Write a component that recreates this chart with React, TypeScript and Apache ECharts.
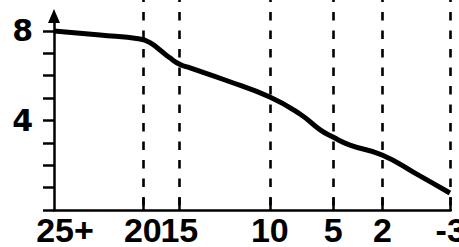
import React, { useEffect, useRef } from 'react';
import * as echarts from 'echarts';

const tickPositions = [0, 22.4, 31.6, 54.4, 70.4, 82.8, 100];
const tickLabels = ['25+', '20', '15', '10', '5', '2', '-3'];
const dashedAt = [22.4, 31.6, 54.4, 70.4, 82.8, 100];
const curveX = [0, 11.6, 21.7, 24.2, 26.7, 29.2, 31.8, 34.3, 43.1, 54.4, 62.0, 67.1, 70.3, 74.6, 82.7, 91.0, 99.8];
const curveY = [8.0, 7.82, 7.64, 7.48, 7.15, 6.8, 6.5, 6.35, 5.81, 5.05, 4.29, 3.58, 3.26, 2.9, 2.46, 1.65, 0.76];
const yTicks = [0, 1, 2, 3, 4, 5, 6, 7, 8];
const yLabels = [4, 8];

export default function App() {
  const ref = useRef<HTMLDivElement>(null);
  useEffect(() => {
    if (!ref.current) return;
    const chart = echarts.init(ref.current, undefined, { renderer: 'svg' });
    const font = 'Liberation Sans, Arial, Helvetica, sans-serif';
    chart.setOption({
      animation: false,
      grid: [
        { left: 54, right: 8.3, top: 16, bottom: 37, containLabel: false, outerBoundsMode: 'none' },
        { left: 54, right: 8.3, top: 0, bottom: 37, containLabel: false, outerBoundsMode: 'none' },
      ],
      xAxis: [
        {
          type: 'value',
          gridIndex: 0,
          min: 0,
          max: 100,
          splitLine: { show: false },
          axisLine: { show: true, lineStyle: { color: '#000', width: 2.5 } },
          axisTick: {
            show: true,
            inside: true,
            length: 12,
            lineStyle: { color: '#000', width: 2.5 },
            customValues: tickPositions.slice(1),
          },
          axisLabel: {
            show: true,
            customValues: tickPositions,
            margin: 6,
            color: '#000',
            fontFamily: font,
            fontWeight: 'bold',
            fontSize: 34,
            lineHeight: 28,
            formatter: (v: number) => {
              const i = tickPositions.findIndex((p) => Math.abs(p - v) < 1e-6);
              if (i < 0) return '';
              return i === 0 ? '{a|' + tickLabels[i] + '}' : tickLabels[i];
            },
            rich: {
              a: {
                padding: [0, 0, 0, 22],
                color: '#000',
                fontFamily: font,
                fontWeight: 'bold',
                fontSize: 34,
                lineHeight: 28,
              },
            },
          },
        },
        { type: 'value', gridIndex: 1, min: 0, max: 100, show: false },
      ],
      yAxis: [
        {
          type: 'value',
          gridIndex: 0,
          min: 0,
          max: 8.67,
          splitLine: { show: false },
          axisLine: {
            show: true,
            symbol: ['none', 'triangle'],
            symbolSize: [12, 14],
            lineStyle: { color: '#000', width: 2.5 },
          },
          axisTick: {
            show: true,
            inside: false,
            length: 11,
            lineStyle: { color: '#000', width: 2.5 },
            customValues: yTicks,
          },
          axisLabel: {
            show: true,
            customValues: yLabels,
            margin: 21,
            color: '#000',
            fontFamily: 'DejaVu Sans, sans-serif',
            fontWeight: 'bold',
            fontSize: 30,
          },
        },
        { type: 'value', gridIndex: 1, min: 0, max: 1, show: false },
      ],
      series: [
        {
          type: 'line',
          xAxisIndex: 1,
          yAxisIndex: 1,
          z: 1,
          data: [[0, 0]],
          showSymbol: false,
          symbol: 'none',
          lineStyle: { opacity: 0 },
          silent: true,
          markLine: {
            silent: true,
            symbol: ['none', 'none'],
            label: { show: false },
            lineStyle: { type: [8.5, 10], dashOffset: 13.5, color: '#000', width: 2.6 },
            data: dashedAt.map((v) => ({ xAxis: v })),
          },
        },
        {
          type: 'line',
          xAxisIndex: 0,
          yAxisIndex: 0,
          z: 5,
          data: curveX.map((x, i) => [x, curveY[i]]),
          showSymbol: false,
          symbol: 'none',
          smooth: 0.5,
          lineStyle: { color: '#000', width: 5 },
          silent: true,
        },
      ],
    });
    return () => chart.dispose();
  }, []);
  return (
    <div
      ref={ref}
      style={{ position: 'fixed', left: 0, top: 0, width: 459, height: 247, background: '#fff' }}
    />
  );
}
